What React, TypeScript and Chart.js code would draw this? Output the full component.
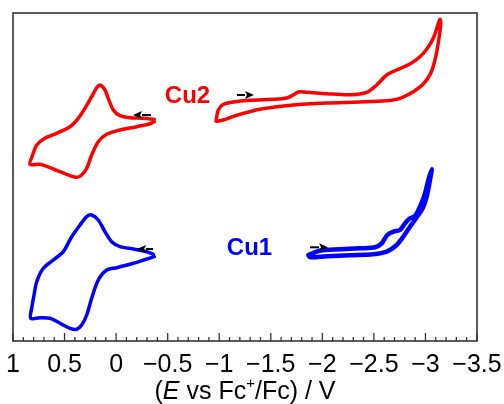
import React, { useEffect, useRef } from "react";
import { Chart, registerables } from "chart.js";

Chart.register(...registerables);

// Potentials (V vs Fc+/Fc) and currents (arbitrary units, offset per trace)
// Cu2, positive window (upper branch then lower branch)
const cu2PosE = [-0.37, -0.264, -0.135, -0.038, 0.027, 0.076, 0.108, 0.156, 0.188, 0.237, 0.302, 0.367, 0.447, 0.576, 0.69, 0.77, 0.809, 0.835,
  0.738, 0.609, 0.479, 0.382, 0.334, 0.285, 0.237, 0.173, 0.091, -0.038, -0.2, -0.312, -0.37];
const cu2PosI = [221.7, 222.7, 223.3, 225.3, 231, 242.7, 251, 256, 253.3, 244.3, 232.7, 222.7, 214.3, 207.7, 202.7, 196, 186, 176.7,
  176.7, 172, 166.7, 163.7, 166, 172.7, 186, 199.3, 206.7, 211, 214.3, 216.7, 219.3];

// Cu2, negative window
const cu2NegE = [-0.969, -0.991, -1.04, -1.137, -1.298, -1.524, -1.654, -1.718, -1.767, -1.848, -2.042, -2.268, -2.43, -2.527, -2.624, -2.721, -2.85, -2.947, -3.012, -3.076, -3.141,
  -3.148, -3.129, -3.096, -3.051, -2.979, -2.882, -2.753, -2.624, -2.365, -2.042, -1.718, -1.395, -1.17, -1.04, -0.969];
const cu2NegI = [220.3, 231, 236.7, 239, 240.7, 241.7, 243, 246, 249, 248.7, 247.3, 246.3, 248.7, 256, 266, 271, 277, 284.3, 291.7, 302.7, 321.7,
  317.7, 301, 282.7, 267.7, 257, 249.3, 242.7, 240.3, 239, 238, 236, 231.7, 225.7, 221, 219.7];

// Cu1, positive window
const cu1PosE = [-0.361, -0.297, -0.167, -0.038, 0.043, 0.108, 0.173, 0.237, 0.285, 0.35, 0.431, 0.512, 0.609, 0.706, 0.77, 0.796, 0.819, 0.828,
  0.738, 0.641, 0.544, 0.447, 0.382, 0.334, 0.285, 0.237, 0.173, 0.091, -0.006, -0.167, -0.297, -0.37];
const cu1PosI = [86.7, 89.3, 92, 94.3, 99.3, 109.3, 121, 126, 124.3, 116, 104.3, 89.3, 81, 72.7, 59.3, 46, 32.7, 22.7,
  23.3, 22.7, 17.7, 12.7, 11.7, 16, 26, 42.7, 61, 71, 73.3, 77.7, 82, 84.3];

// Cu1, negative window
const cu1NegE = [-1.864, -1.977, -2.171, -2.365, -2.511, -2.576, -2.63, -2.688, -2.753, -2.802, -2.85, -2.899, -2.947, -2.996, -3.028, -3.061,
  -3.044, -3.012, -2.973, -2.915, -2.85, -2.785, -2.721, -2.624, -2.494, -2.268, -2.042, -1.88, -1.864];
const cu1NegI = [86, 90.3, 91.7, 92.7, 93.7, 97.7, 106, 109.3, 111, 117.7, 122.7, 125, 134.3, 147.7, 161, 171.7,
  161, 144.3, 132.7, 123.7, 114.3, 104.3, 96, 89.3, 86.7, 85.7, 84.7, 83.7, 86];

// Axis
const xMin = -3.5;
const xMax = 1;
const xMinorStep = 0.1;
const majorTicks = [1, 0.5, 0, -0.5, -1, -1.5, -2, -2.5, -3, -3.5];
const majorLabels = ["1", "0.5", "0", "\u22120.5", "\u22121", "\u22121.5", "\u22122", "\u22122.5", "\u22123", "\u22123.5"];
const yMin = 0;
const yMax = 328;

// Annotations
const labelTexts = ["Cu2", "Cu1"];
const labelE = [-0.692, -1.294];
const labelI = [244.5, 92.5];
const labelColors = ["#ff0000", "#0000ff"];

const arrowTailE = [-0.338, -1.172, -0.358, -1.88];
const arrowHeadE = [-0.164, -1.337, -0.203, -2.055];
const arrowI = [226, 246, 92, 93.7];

const FONT = "'Liberation Sans', Arial, Helvetica, sans-serif";

const toPts = (xs: number[], ys: number[]) => xs.map((x, i) => ({ x, y: ys[i] }));

const decorPlugin = {
  id: "decor",
  afterDatasetsDraw(chart: any) {
    const { ctx, chartArea: a, scales } = chart;
    const xs = scales.x;
    const ys = scales.y;
    ctx.save();
    // frame
    ctx.strokeStyle = "#333333";
    ctx.lineWidth = 1.6;
    ctx.strokeRect(a.left, a.top, a.right - a.left, a.bottom - a.top);
    // inward ticks
    ctx.lineWidth = 1.3;
    for (const t of xs.ticks) {
      const px = xs.getPixelForValue(t.value);
      const major = Math.abs(Math.round(t.value * 10)) % 5 === 0;
      const len = major ? 8 : 4;
      ctx.beginPath();
      ctx.moveTo(px, a.bottom);
      ctx.lineTo(px, a.bottom - len);
      ctx.stroke();
    }
    // labels
    ctx.font = `bold 24px ${FONT}`;
    ctx.textAlign = "center";
    ctx.textBaseline = "middle";
    labelTexts.forEach((t, i) => {
      ctx.fillStyle = labelColors[i];
      ctx.fillText(t, xs.getPixelForValue(labelE[i]), ys.getPixelForValue(labelI[i]));
    });
    // arrows
    ctx.fillStyle = "#000";
    ctx.strokeStyle = "#000";
    ctx.lineWidth = 2;
    arrowTailE.forEach((te, i) => {
      const x0 = xs.getPixelForValue(te);
      const x1 = xs.getPixelForValue(arrowHeadE[i]);
      const y = ys.getPixelForValue(arrowI[i]);
      const dir = Math.sign(x1 - x0);
      const hl = 9;
      ctx.beginPath();
      ctx.moveTo(x0, y);
      ctx.lineTo(x1 - dir * hl, y);
      ctx.stroke();
      ctx.beginPath();
      ctx.moveTo(x1, y);
      ctx.lineTo(x1 - dir * hl, y - 4);
      ctx.lineTo(x1 - dir * hl + dir * 2, y);
      ctx.lineTo(x1 - dir * hl, y + 4);
      ctx.closePath();
      ctx.fill();
    });
    // axis title with italic E and superscript +
    const cx = (a.left + a.right) / 2;
    const ty = 392;
    const segs = [
      { t: "(", f: `25px ${FONT}`, dy: 0 },
      { t: "E", f: `italic 25px ${FONT}`, dy: 0 },
      { t: " vs Fc", f: `25px ${FONT}`, dy: 0 },
      { t: "+", f: `15px ${FONT}`, dy: -8 },
      { t: "/Fc) / V", f: `25px ${FONT}`, dy: 0 },
    ];
    let total = 0;
    const widths = segs.map((s) => {
      ctx.font = s.f;
      const w = ctx.measureText(s.t).width;
      total += w;
      return w;
    });
    let x = cx - total / 2;
    ctx.textAlign = "left";
    ctx.fillStyle = "#000";
    segs.forEach((s, i) => {
      ctx.font = s.f;
      ctx.fillText(s.t, x, ty + s.dy);
      x += widths[i];
    });
    ctx.restore();
  },
};

export default function App() {
  const ref = useRef<HTMLCanvasElement | null>(null);
  useEffect(() => {
    if (!ref.current) return;
    const common = {
      showLine: true,
      pointRadius: 0,
      tension: 0.3,
      fill: false,
      borderJoinStyle: "round" as const,
      borderCapStyle: "round" as const,
    };
    const chart = new Chart(ref.current, {
      type: "scatter",
      data: {
        datasets: [
          { ...common, label: "Cu2 ox", data: toPts(cu2PosE, cu2PosI), borderColor: "#ff0000", borderWidth: 3.5 },
          { ...common, label: "Cu2 red", data: toPts(cu2NegE, cu2NegI), borderColor: "#ff0000", borderWidth: 3.5 },
          { ...common, label: "Cu1 ox", data: toPts(cu1PosE, cu1PosI), borderColor: "#0000ff", borderWidth: 3.5 },
          { ...common, label: "Cu1 red", data: toPts(cu1NegE, cu1NegI), borderColor: "#0000ff", borderWidth: 4.5 },
        ],
      },
      options: {
        animation: false,
        responsive: false,
        maintainAspectRatio: false,
        layout: { padding: { left: 13, top: 13, right: 27, bottom: 0 } },
        plugins: { legend: { display: false }, tooltip: { enabled: false } },
        scales: {
          x: {
            type: "linear",
            position: "bottom",
            min: xMin,
            max: xMax,
            reverse: true,
            grid: {
              display: true,
              drawOnChartArea: false,
              drawTicks: true,
              tickLength: 9,
              color: "rgba(0,0,0,0)",
            },
            border: { display: false },
            afterFit: (s: any) => {
              s.height = 63;
            },
            ticks: {
              stepSize: xMinorStep,
              autoSkip: false,
              maxRotation: 0,
              minRotation: 0,
              padding: 0,
              color: "#000",
              font: { family: FONT, size: 25 },
              callback: (v: any) => {
                const idx = majorTicks.findIndex((m) => Math.abs(m - Number(v)) < 1e-6);
                return idx >= 0 ? majorLabels[idx] : "";
              },
            },
          },
          y: { type: "linear", display: false, min: yMin, max: yMax },
        },
      },
      plugins: [decorPlugin],
    });
    return () => chart.destroy();
  }, []);
  return (
    <div style={{ position: "fixed", left: 0, top: 0, width: 504, height: 404, background: "#fff" }}>
      <canvas ref={ref} width={504} height={404} />
    </div>
  );
}
